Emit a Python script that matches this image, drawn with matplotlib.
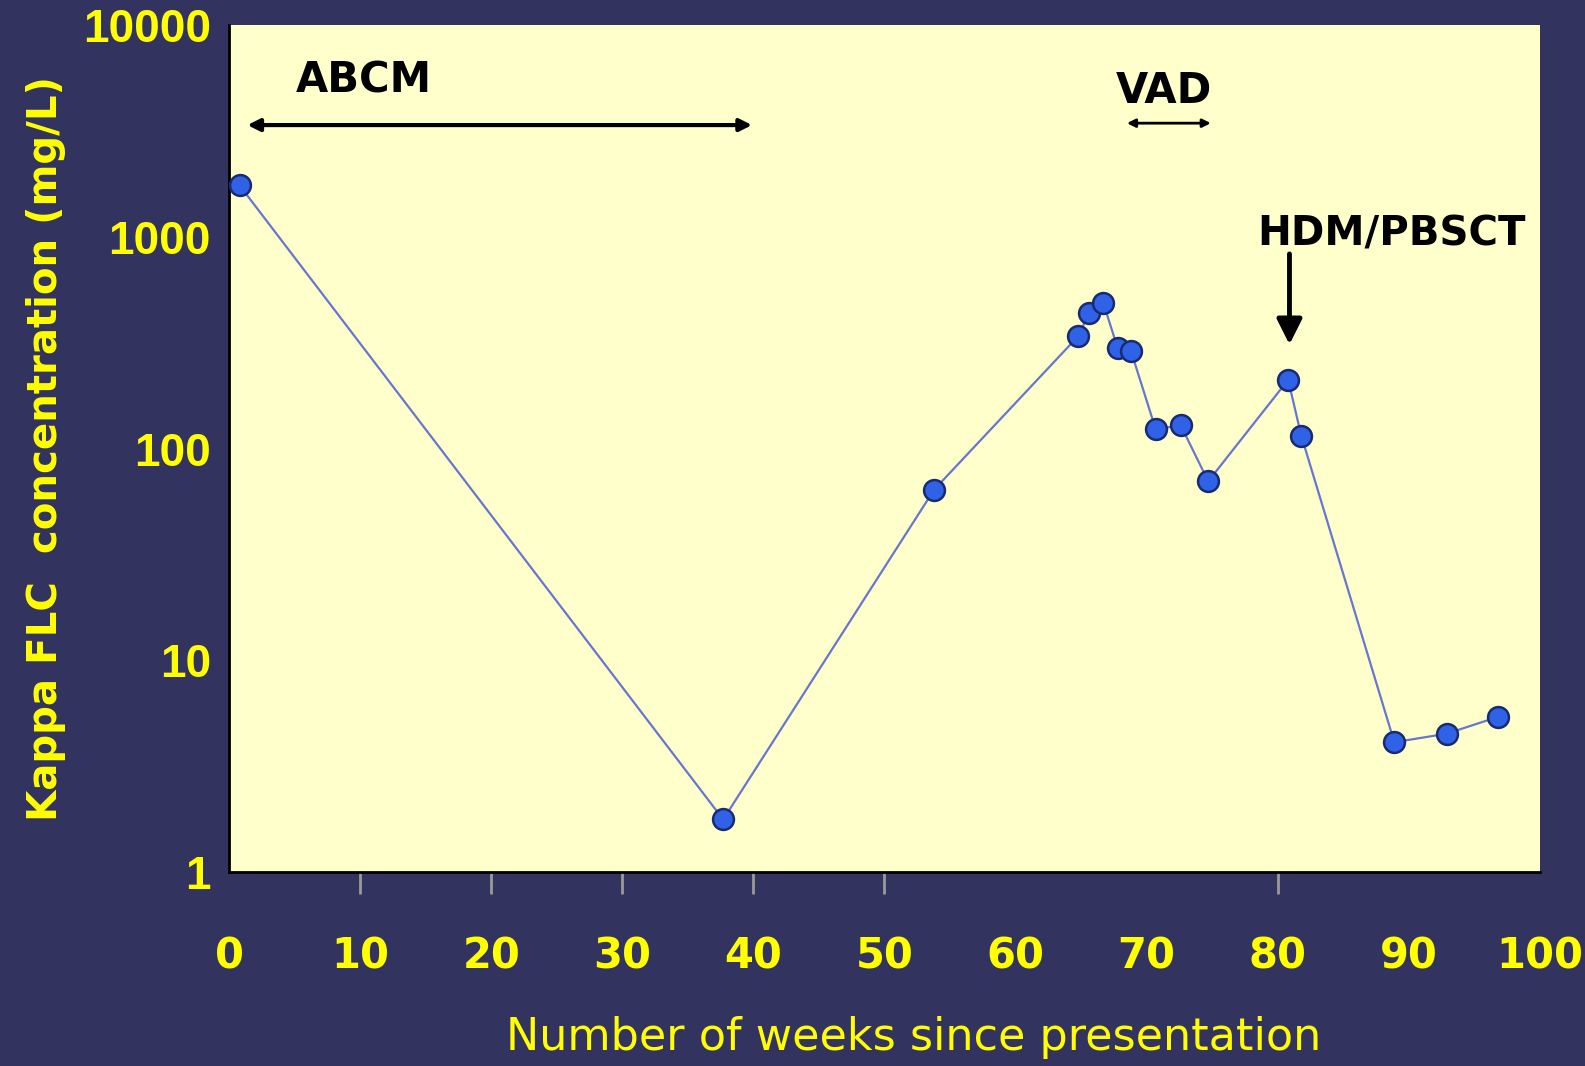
import matplotlib
matplotlib.use("Agg")
import matplotlib.pyplot as plt
from matplotlib.ticker import FixedLocator, FixedFormatter, NullLocator

# Data
weeks = [0.8, 37.7, 53.8, 64.8, 65.6, 66.7, 67.8, 68.8, 70.7, 72.6, 74.7, 80.8, 81.8, 88.9, 92.9, 96.8]
kappa = [1750, 1.77, 64, 340, 436, 487, 297, 290, 123, 129, 70, 211, 115, 4.1, 4.5, 5.4]
x_ticks = [0, 10, 20, 30, 40, 50, 60, 70, 80, 90, 100]
x_tick_marks_shown = [10, 20, 30, 40, 50, 80]
y_ticks = [1, 10, 100, 1000, 10000]
y_tick_labels = ["1", "10", "100", "1000", "10000"]

BG = "#33335f"
FACE = "#ffffcc"
YEL = "#ffff00"
NARROW = "Liberation Sans"
WIDE = "DejaVu Sans"

fig = plt.figure(figsize=(15.85, 10.66), dpi=100, facecolor=BG)
ax = fig.add_axes([0.1445, 0.182, 0.827, 0.7945])
ax.set_facecolor(FACE)

ax.plot(weeks, kappa, color="#6677cc", lw=1.6, zorder=2)
ax.plot(weeks, kappa, ls="none", marker="o", ms=15, mfc="#2f62e6",
        mec="#1a2a70", mew=1.8, zorder=3)

ax.set_yscale("log")
ax.set_xlim(0, 100)
ax.set_ylim(1, 10000)

ax.xaxis.set_major_locator(FixedLocator(x_ticks))
ax.set_xticklabels([str(t) for t in x_ticks])
ax.yaxis.set_major_locator(FixedLocator(y_ticks))
ax.yaxis.set_major_formatter(FixedFormatter(y_tick_labels))
ax.yaxis.set_minor_locator(NullLocator())

ax.tick_params(axis="x", direction="out", length=16, width=2, color="#9a9a9a",
               pad=30, labelcolor=YEL, labelsize=30)
ax.tick_params(axis="y", length=0, pad=13, labelcolor=YEL, labelsize=33)
for lab in ax.get_xticklabels():
    lab.set_fontweight("bold")
    lab.set_family(WIDE)
for lab in ax.get_yticklabels():
    lab.set_fontweight("bold")
    lab.set_family(NARROW)
for tk, val in zip(ax.xaxis.get_major_ticks(), x_ticks):
    if val not in x_tick_marks_shown:
        tk.tick1line.set_visible(False)

for s in ["top", "right"]:
    ax.spines[s].set_visible(False)
for s in ["left", "bottom"]:
    ax.spines[s].set_color("black")
    ax.spines[s].set_linewidth(2)

xl = ax.set_xlabel("Number of weeks since presentation", color=YEL, fontsize=32,
                   family=WIDE)
xl.set_va("center")
ax.xaxis.set_label_coords(0.522, -0.196)
ax.set_ylabel("Kappa FLC  concentration (mg/L)", color=YEL, fontsize=29,
              family=WIDE, fontweight="bold", labelpad=12)

# Annotations
ax.text(10.3, 5500, "ABCM", ha="center", va="center", fontsize=30,
        fontweight="bold", family=WIDE, color="black")
ax.annotate("", xy=(1.4, 3370), xytext=(39.9, 3370),
            arrowprops=dict(arrowstyle="<|-|>", color="black", lw=3,
                            mutation_scale=18, shrinkA=0, shrinkB=0))
ax.text(71.3, 4900, "VAD", ha="center", va="center", fontsize=30,
        fontweight="bold", family=WIDE, color="black")
ax.annotate("", xy=(68.5, 3440), xytext=(74.9, 3440),
            arrowprops=dict(arrowstyle="<|-|>", color="black", lw=2,
                            mutation_scale=12, shrinkA=0, shrinkB=0))
ax.text(88.7, 1030, "HDM/PBSCT", ha="center", va="center", fontsize=29,
        fontweight="bold", family=WIDE, color="black")
ax.annotate("", xy=(80.9, 310), xytext=(80.9, 830),
            arrowprops=dict(arrowstyle="-|>", color="black", lw=3.5,
                            mutation_scale=38, shrinkA=0, shrinkB=0))

fig.savefig("out.png", dpi=100, facecolor=BG)
